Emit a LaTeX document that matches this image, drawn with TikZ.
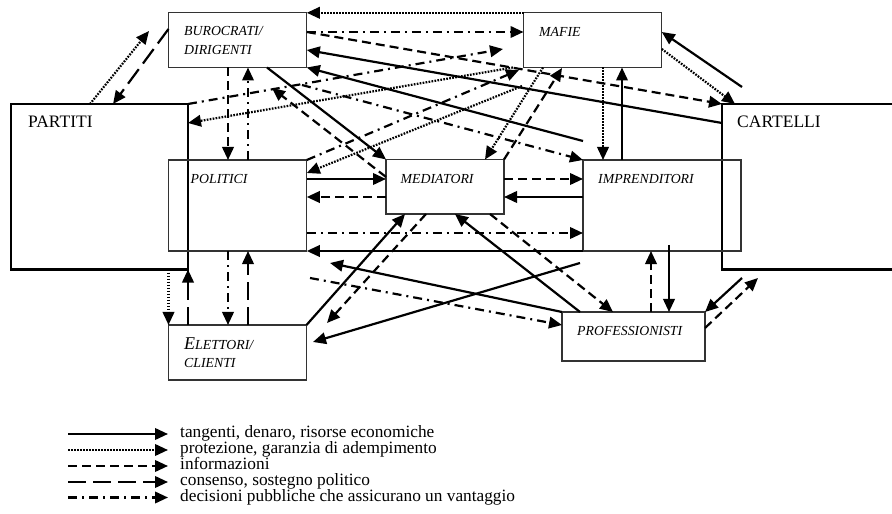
\documentclass[tikz,border=0pt]{standalone}
\usepackage{fontspec}
\setmainfont{Liberation Serif}
\usetikzlibrary{arrows.meta,calc}
\begin{document}
\begin{tikzpicture}[x=1bp,y=-1bp,
 box/.style={draw=black!80, line width=1.2bp, inner sep=0pt, outer sep=0pt, anchor=north west},
 bigbox/.style={draw=black, line width=2.6bp, inner sep=0pt, outer sep=0pt, anchor=north west},
 lab/.style={font=\fontsize{13.8bp}{16bp}\selectfont\itshape, anchor=base west, inner sep=0pt},
 big/.style={font=\fontsize{17.5bp}{20bp}\selectfont, anchor=base west, inner sep=0pt},
 leg/.style={font=\fontsize{17.3bp}{17bp}\selectfont, anchor=base west, inner sep=0pt},
 arr/.style={line width=2.2bp, -{Triangle[length=13bp,width=11.5bp]}},
 money/.style={arr},
 prot/.style={arr, dash pattern=on 1.7bp off 1.3bp},
 info/.style={arr, dash pattern=on 9bp off 5bp},
 cons/.style={arr, dash pattern=on 18bp off 7bp},
 dec/.style={arr, dash pattern=on 9bp off 5bp on 2bp off 5bp},
]
\useasboundingbox (0,0) rectangle (892,514);
\clip (0,0) rectangle (892,514);

% boxes
\node[box, minimum width=138.3bp, minimum height=54.7bp] (bur) at (168.5,12.8) {};
\node[box, minimum width=138.3bp, minimum height=54.7bp] (maf) at (523.5,12.8) {};
\node[bigbox, minimum width=177bp, minimum height=165.5bp] (par) at (11,104) {};
\node[bigbox, minimum width=190bp, minimum height=165.5bp] (cart) at (722,104) {};
\node[box, minimum width=138.3bp, minimum height=91bp] (pol) at (168.5,160) {};
\node[box, minimum width=118bp, minimum height=54.5bp] (med) at (386,159.5) {};
\node[box, minimum width=158bp, minimum height=91bp] (imp) at (583,160) {};
\node[box, minimum width=138bp, minimum height=55bp] (ele) at (168.5,325) {};
\node[box, minimum width=143bp, minimum height=49bp] (pro) at (562,312) {};

% labels
\node[lab] (burT1) at (184,35.5) {BUROCRATI/};
\node[lab] (burT2) at (184,55) {DIRIGENTI};
\node[lab] (mafT) at (539,36.5) {MAFIE};
\node[lab] (polT) at (190.5,184) {POLITICI};
\node[lab] (medT) at (400.5,184) {MEDIATORI};
\node[lab] (impT) at (598,184) {IMPRENDITORI};
\node[lab] (eleT1) at (184,350) {{\fontsize{18bp}{20bp}\selectfont E}LETTORI/};
\node[lab] (eleT2) at (184,367) {CLIENTI};
\node[lab] (proT) at (577,336) {PROFESSIONISTI};
\node[big] (parT) at (28,128) {PARTITI};
\node[big] (cartT) at (737,128) {CARTELLI};

% free ends
\coordinate (mafL) at (503,49);
\coordinate (decS) at (302,85);
\coordinate (burA) at (272,88);
\coordinate (mafA) at (519,70);
\coordinate (mafB) at (522,86);
\coordinate (cartA) at (742,87);
\coordinate (burB) at (149,31);
\coordinate (eleA) at (327,323);
\coordinate (polA) at (330,263);
\coordinate (polB) at (310,278);
\coordinate (impA) at (580,263);
\coordinate (eleB) at (313,342);
\coordinate (impB) at (669,245);
\coordinate (cartB) at (742,278);
\coordinate (cartC) at (758,278);

% top connectors
\draw[prot] (maf.north west) -- (bur.north east);
\draw[dec] (bur.east |- 0,32) -- (maf.west |- 0,32);
\draw[info] (bur.east |- 0,32) -- (cart.north west);
\draw[money] (cart.west |- 0,123) -- (bur.east |- 0,50);
\draw[money] (imp.west |- 0,141) -- (bur.south east);
\draw[dec] (par.north east) -- (mafL);
\draw[dec] (decS) -- (imp.north west);
\draw[prot] (513,0 |- maf.south) -- (par.east |- 0,123);
\draw[info] (med.west |- 0,177) -- (burA);
\draw[money] (267,0 |- bur.south) -- (med.north west);
\draw[dec] (pol.north east) -- (mafA);
\draw[prot] (mafB) -- (pol.east |- 0,173);
\draw[prot] (543,0 |- maf.south) -- (485,0 |- med.north);
\draw[info] (med.north east) -- (562,68);
\draw[prot] (603,0 |- maf.south) -- (603,0 |- imp.north);
\draw[money] (622,0 |- imp.north) -- (622,0 |- maf.south);
\draw[money] (cartA) -- (maf.east |- 0,32);
\draw[prot] (maf.east |- 0,49) -- (735,0 |- cart.north);
\draw[prot] (90,0 |- par.north) -- (burB);
\draw[cons] (bur.west |- 0,29) -- (113,0 |- par.north);
\draw[info] (228,0 |- bur.south) -- (228,0 |- pol.north);
\draw[dec] (248,0 |- pol.north) -- (248,0 |- bur.south);

% middle connectors
\draw[money] (pol.east |- 0,179) -- (med.west |- 0,179);
\draw[info] (med.east |- 0,179) -- (imp.west |- 0,179);
\draw[info] (med.west |- 0,197) -- (pol.east |- 0,197);
\draw[money] (imp.west |- 0,197) -- (med.east |- 0,197);
\draw[dec] (pol.east |- 0,233) -- (imp.west |- 0,233);
\draw[money] (imp.south west) -- (pol.south east);

% lower connectors
\draw[prot] (ele.north west |- par.south) -- (ele.north west);
\draw[cons] (par.south east |- ele.north) -- (par.south east);
\draw[dec] (228,0 |- pol.south) -- (228,0 |- ele.north);
\draw[cons] (248,0 |- ele.north) -- (248,0 |- pol.south);
\draw[money] (ele.north east) -- (405,0 |- med.south);
\draw[info] (426,0 |- med.south) -- (eleA);
\draw[money] (580,0 |- pro.north) -- (455,0 |- med.south);
\draw[info] (490,0 |- med.south) -- (613,0 |- pro.north);
\draw[money] (pro.north west) -- (polA);
\draw[dec] (polB) -- (pro.west |- 0,325);
\draw[money] (impA) -- (eleB);
\draw[info] (651,0 |- pro.north) -- (651,0 |- imp.south);
\draw[money] (impB) -- (669,0 |- pro.north);
\draw[money] (cartB) -- (pro.north east);
\draw[info] (pro.east |- 0,328) -- (cartC);

% legend
\coordinate (l1a) at (68,434); \coordinate (l1b) at (168,434);
\coordinate (l2a) at (68,450); \coordinate (l2b) at (168,450);
\coordinate (l3a) at (68,466); \coordinate (l3b) at (168,466);
\coordinate (l4a) at (68,482); \coordinate (l4b) at (168,482);
\coordinate (l5a) at (68,497.5); \coordinate (l5b) at (168,497.5);
\draw[money] (l1a) -- (l1b);
\draw[prot] (l2a) -- (l2b);
\draw[info] (l3a) -- (l3b);
\draw[cons] (l4a) -- (l4b);
\draw[dec] (l5a) -- (l5b);
\node[leg] (t1) at (180,437.5) {tangenti, denaro, risorse economiche};
\node[leg] (t2) at (180,453.5) {protezione, garanzia di adempimento};
\node[leg] (t3) at (180,469.5) {informazioni};
\node[leg] (t4) at (180,485.5) {consenso, sostegno politico};
\node[leg] (t5) at (180,501.5) {decisioni pubbliche che assicurano un vantaggio};
\end{tikzpicture}
\end{document}
